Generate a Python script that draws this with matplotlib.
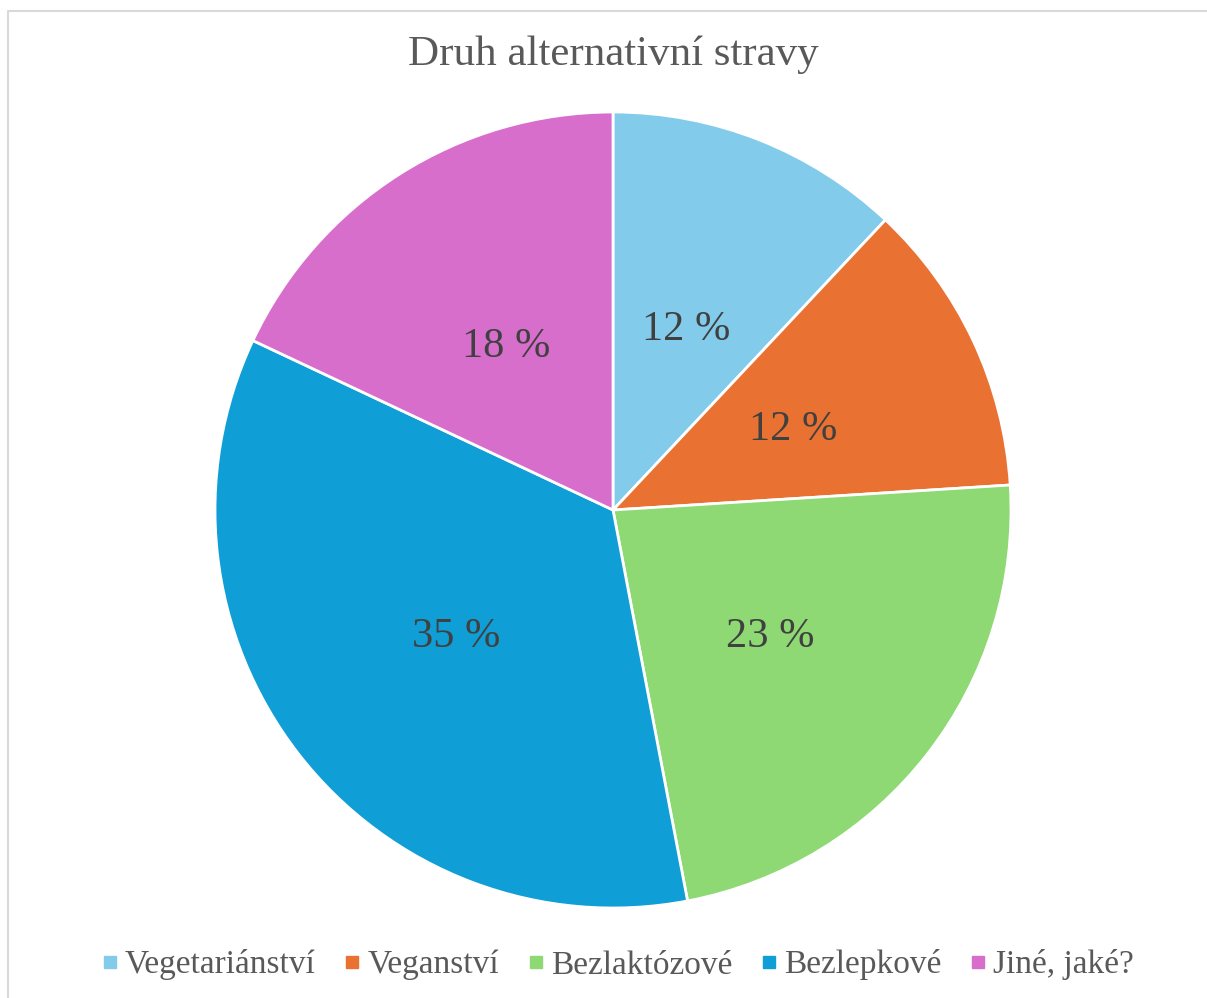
import matplotlib
matplotlib.use('Agg')
import matplotlib.pyplot as plt
from matplotlib.lines import Line2D

plt.rcParams['font.family'] = ['Liberation Serif', 'DejaVu Serif']

categories = ['Vegetariánství', 'Veganství', 'Bezlaktózové', 'Bezlepkové', 'Jiné, jaké?']
shares = [12, 12, 23, 35, 18]
colors = ['#83CBEB', '#E97132', '#8ED973', '#0F9ED5', '#D86ECC']
title = 'Druh alternativní stravy'

W, H = 1207, 998
fig = plt.figure(figsize=(W / 100, H / 100), dpi=100)

# chart frame (only left and top edges are visible in the crop)
frame = fig.add_axes([0, 0, 1, 1], zorder=-1)
frame.set_xlim(0, W)
frame.set_ylim(H, 0)
frame.axis('off')
frame.plot([7.5, 7.5, W], [H, 10.5, 10.5], color='#D9D9D9', lw=1.5)

cx, cy, r = 613, 510, 398
ax = fig.add_axes([(cx - r) / W, (H - cy - r) / H, 2 * r / W, 2 * r / H])
wedges, texts, autotexts = ax.pie(
    shares, colors=colors, startangle=90, counterclock=False, radius=1,
    autopct=lambda p: f'{p:.0f} %', pctdistance=0.5,
    wedgeprops=dict(edgecolor='white', linewidth=2),
    textprops=dict(color='#404040', fontsize=30.5))
for t in autotexts:
    x, y = t.get_position()
    t.set_position((x, y - 0.012))
ax.set_xlim(-1, 1)
ax.set_ylim(-1, 1)
ax.set_aspect('equal')
ax.axis('off')

fig.text(cx / W, 1 - 55 / H, title, ha='center', va='center',
         fontsize=31, color='#595959')

handles = [Line2D([], [], marker='s', linestyle='none', markersize=8,
                  markerfacecolor=c, markeredgecolor=c) for c in colors]
fig.legend(handles, categories, loc='center', bbox_to_anchor=(617.5 / W, 1 - 965 / H),
           ncol=5, frameon=False, fontsize=24, labelcolor='#595959',
           handletextpad=0.2, columnspacing=0.85, handlelength=0.5)

fig.savefig('out.png', dpi=100)
